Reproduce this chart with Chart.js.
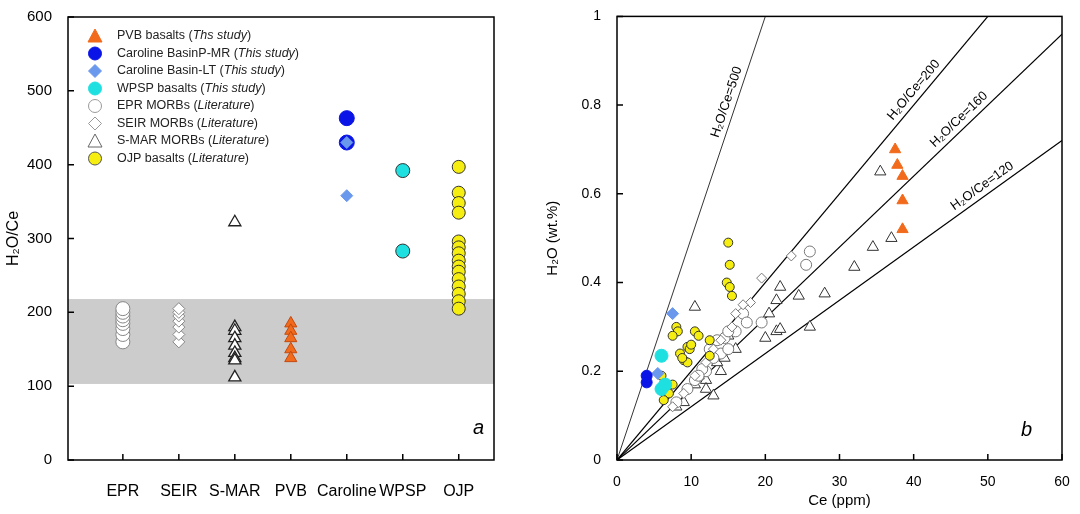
<!DOCTYPE html>
<html><head><meta charset="utf-8">
<script src="https://cdn.jsdelivr.net/npm/chart.js@4"></script>
<style>body{margin:0;background:#fff;font-family:"Liberation Sans",Arial,sans-serif}
#a,#b{position:absolute;top:0;width:540px;height:514px}#a{left:0}#b{left:540px}</style>
</head><body>
<div id="a"><canvas id="ca"></canvas></div><div id="b"><canvas id="cb"></canvas></div>
<script>
const categories=["EPR","SEIR","S-MAR","PVB","Caroline","WPSP","OJP"];
const bandRange=[103,218];
const epr=[160,170,178,185,190,195,200,205];
const seir=[160,170,180,188,195,200,205];
const smar=[322,180,175,165,155,145,138,135,112];
const pvb=[185,175,165,150,138];
const carPMR=[463,430];
const carLT=[430,358];
const wpsp=[392,283];
const ojp=[397,362,348,335,296,288,280,270,262,255,245,235,225,215,205];
// panel b: [Ce ppm, H2O wt.%]
const bPVB=[[37.5,0.70],[37.8,0.665],[38.5,0.64],[38.5,0.585],[38.5,0.52]];
const bSMAR=[[35.5,0.65],[37,0.5],[34.5,0.48],[32,0.435],[26,0.30],[28,0.375],[24.5,0.37],[22,0.39],[21.5,0.36],[20.5,0.33],[21.5,0.29],[22,0.295],[20,0.275],[10.5,0.345],[13,0.145],[14,0.2],[13.5,0.22],[12,0.18],[9,0.13],[8,0.12],[15,0.28],[16,0.25],[12,0.16],[10.5,0.17],[14.5,0.23],[11,0.19]];
const bEPR=[[26,0.47],[25.5,0.44],[19.5,0.31],[17,0.33],[17.5,0.31],[16,0.29],[14.5,0.275],[14,0.24],[15,0.25],[13,0.23],[12,0.2],[11.5,0.205],[10.5,0.18],[9.5,0.16],[8,0.13],[12.5,0.25],[13.5,0.27],[15,0.29],[11,0.19]];
const bSEIR=[[23.5,0.46],[19.5,0.41],[18,0.355],[17,0.35],[16,0.33],[14,0.27],[12,0.22],[10.5,0.19],[9,0.15],[7.5,0.12],[13,0.25],[15.5,0.3]];
const bOJP=[[15,0.49],[15.2,0.44],[14.8,0.40],[15.2,0.39],[15.5,0.37],[10.5,0.29],[11,0.28],[8,0.30],[8.2,0.29],[7.5,0.28],[9.5,0.255],[9.8,0.25],[10,0.26],[9,0.225],[9.5,0.22],[12.5,0.27],[12.5,0.235],[8.5,0.24],[8.8,0.23],[6,0.19],[6.2,0.16],[6.5,0.15],[7,0.15],[6.3,0.135],[7.5,0.17]];
const bPMR=[[4,0.19],[4,0.175]];
const bLT=[[7.5,0.33],[5.5,0.195]];
const bWPSP=[[6,0.235],[6.5,0.17],[6,0.16]];
const ratios=[500,200,160,120];
const labelCe={500:16,200:41,160:47,120:50};

const FONT='"Liberation Sans", Arial, sans-serif';
Chart.defaults.font.family=FONT;Chart.defaults.color='#000';
const ORANGE='#f26a1b',BLUE='#0a14e6',LBLUE='#6a98ec',CYAN='#1fe0e0',YEL='#f5ee10';

function frameTicks(ch,xticks,yticks,len){
  const {ctx,chartArea:a,scales:{x,y}}=ch;
  ctx.save();ctx.strokeStyle='#000';ctx.lineWidth=1.5;ctx.strokeRect(a.left,a.top,a.right-a.left,a.bottom-a.top);
  ctx.beginPath();
  xticks.forEach(v=>{const p=x.getPixelForValue(v);ctx.moveTo(p,a.bottom);ctx.lineTo(p,a.bottom-len);});
  yticks.forEach(v=>{const p=y.getPixelForValue(v);ctx.moveTo(a.left,p);ctx.lineTo(a.left+len,p);});
  ctx.stroke();ctx.restore();
}
function sc(arr,cat){return arr.map(v=>({x:cat,y:v}));}
function ds(data,style,r,fill,stroke,bw){return {data,pointStyle:style,pointRadius:r,pointHoverRadius:r,backgroundColor:fill,borderColor:stroke,borderWidth:bw||1,showLine:false};}

const legendItems=[
 ['triangle',ORANGE,ORANGE,'PVB basalts (','Ths study',')'],
 ['circle',BLUE,BLUE,'Caroline BasinP-MR (','This study',')'],
 ['rectRot',LBLUE,LBLUE,'Caroline Basin-LT (','This study',')'],
 ['circle',CYAN,CYAN,'WPSP basalts (','This study',')'],
 ['circle','#fff','#999','EPR MORBs (','Literature',')'],
 ['rectRot','#fff','#999','SEIR MORBs (','Literature',')'],
 ['triangle','#fff','#666','S-MAR MORBs (','Literature',')'],
 ['circle',YEL,'#555','OJP basalts (','Literature',')']];

const plugA={id:'pa',
 beforeDatasetsDraw(ch){const {ctx,chartArea:a,scales:{y}}=ch;ctx.save();ctx.fillStyle='#cccccc';
  const t=y.getPixelForValue(bandRange[1]),b=y.getPixelForValue(bandRange[0]);ctx.fillRect(a.left,t,a.right-a.left,b-t);ctx.restore();},
 afterDraw(ch){const {ctx}=ch;frameTicks(ch,[1,2,3,4,5,6,7],[0,100,200,300,400,500,600],6);
  ctx.save();
  legendItems.forEach((it,i)=>{const yy=36+i*17.5;
   ctx.fillStyle=it[1];ctx.strokeStyle=it[2];ctx.lineWidth=1;
   ctx.beginPath();
   if(it[0]==='circle'){ctx.arc(95,yy,6.5,0,7);}else if(it[0]==='triangle'){ctx.moveTo(95,yy-7);ctx.lineTo(102,yy+6);ctx.lineTo(88,yy+6);ctx.closePath();}else{ctx.moveTo(95,yy-6.5);ctx.lineTo(101.5,yy);ctx.lineTo(95,yy+6.5);ctx.lineTo(88.5,yy);ctx.closePath();}
   ctx.fill();ctx.stroke();
   ctx.fillStyle='#222';ctx.textBaseline='middle';let xx=117;
   ctx.font='12.5px '+FONT;ctx.fillText(it[3],xx,yy);xx+=ctx.measureText(it[3]).width;
   ctx.font='italic 12.5px '+FONT;ctx.fillText(it[4],xx,yy);xx+=ctx.measureText(it[4]).width;
   ctx.font='12.5px '+FONT;ctx.fillText(it[5],xx,yy);});
  ctx.font='italic 20px '+FONT;ctx.fillStyle='#000';ctx.fillText('a',473,428);
  ctx.restore();}};

const fitY=w=>s=>{s.width=w;}, fitX=h=>s=>{s.height=h;};
// datasets listed top-most first (Chart.js draws index 0 last)
new Chart(document.getElementById('ca'),{type:'scatter',
 data:{datasets:[
  ds(sc(ojp,7),'circle',6.5,YEL,'#333'),
  ds(sc(wpsp,6),'circle',7,CYAN,'#333'),
  ds(sc(carLT,5),'rectRot',6,LBLUE,LBLUE),
  ds(sc(carPMR,5),'circle',7.5,BLUE,BLUE),
  ds(sc(pvb,4),'triangle',7,ORANGE,'#c24a10'),
  ds(sc(smar,3),'triangle',7,'#fff','#222',1.3),
  ds(sc(seir,2),'rectRot',6,'#fff','#888'),
  ds(sc(epr,1),'circle',7,'#fff','#888')]},
 plugins:[plugA],
 options:{responsive:true,maintainAspectRatio:false,animation:false,events:[],
  layout:{padding:{top:14,right:46,left:0,bottom:0}},
  plugins:{legend:{display:false},tooltip:{enabled:false}},
  scales:{
   x:{type:'linear',min:0.02,max:7.63,grid:{display:false},border:{display:false},afterFit:fitX(54),
    afterBuildTicks:s=>{s.ticks=[1,2,3,4,5,6,7].map(v=>({value:v}));},
    ticks:{padding:14,font:{size:16},color:'#000',autoSkip:false,maxRotation:0,callback:v=>categories[v-1]}},
   y:{min:0,max:600,grid:{display:false},border:{display:false},afterFit:fitY(68),
    ticks:{stepSize:100,font:{size:15},color:'#000',padding:8},
    title:{display:true,text:'H₂O/Ce',font:{size:16},padding:{bottom:0}}}}}});

const plugB={id:'pb',
 afterDraw(ch){const {ctx,chartArea:a,scales:{x,y}}=ch;frameTicks(ch,[0,10,20,30,40,50,60],[0,0.2,0.4,0.6,0.8,1],6);
  ctx.save();ctx.fillStyle='#000';ctx.font='13px '+FONT;
  ratios.forEach(r=>{const cx=labelCe[r];
   const x0=x.getPixelForValue(0),y0=y.getPixelForValue(0),x1=x.getPixelForValue(50),y1=y.getPixelForValue(50*r/1e4);
   const ang=Math.atan2(y1-y0,x1-x0);
   const px=x.getPixelForValue(cx),py=y.getPixelForValue(cx*r/1e4);
   ctx.save();ctx.translate(px,py);ctx.rotate(ang);ctx.textAlign='center';ctx.textBaseline='bottom';
   ctx.fillText('H₂O/Ce='+r,0,-3);ctx.restore();});
  ctx.font='italic 20px '+FONT;ctx.fillText('b',481,436);
  ctx.restore();}};
const lineDs=ratios.map(r=>({type:'line',data:[{x:0,y:0},{x:60,y:60*r/1e4}],borderColor:'#000',borderWidth:r===500?0.8:1.2,pointRadius:0,fill:false,clip:true}));
const bsc=a=>a.map(p=>({x:p[0],y:p[1]}));
new Chart(document.getElementById('cb'),{type:'scatter',
 data:{datasets:[
  ds(bsc(bPMR),'circle',5.5,BLUE,BLUE),
  ds(bsc(bLT),'rectRot',6,LBLUE,LBLUE),
  ds(bsc(bWPSP),'circle',6.5,CYAN,CYAN),
  ds(bsc(bPVB),'triangle',6.5,ORANGE,ORANGE),
  ds(bsc(bOJP),'circle',4.5,YEL,'#333'),
  ds(bsc(bSEIR),'rectRot',5,'#fff','#777'),
  ds(bsc(bEPR),'circle',5.5,'#fff','#777'),
  ds(bsc(bSMAR),'triangle',6.5,'#fff','#333'),
  ...lineDs]},
 plugins:[plugB],
 options:{responsive:true,maintainAspectRatio:false,animation:false,events:[],
  layout:{padding:{top:14,right:18,left:0,bottom:0}},
  plugins:{legend:{display:false},tooltip:{enabled:false}},
  scales:{
   x:{type:'linear',min:0,max:60,grid:{display:false},border:{display:false},afterFit:fitX(54),
    ticks:{stepSize:10,font:{size:14},color:'#000',padding:6},
    title:{display:true,text:'Ce (ppm)',font:{size:15},padding:{top:2}}},
   y:{min:0,max:1,grid:{display:false},border:{display:false},afterFit:fitY(77),
    ticks:{stepSize:0.2,font:{size:14},color:'#000',padding:8,callback:v=>v===0?'0':(v===1?'1':v.toFixed(1))},
    title:{display:true,text:'H₂O (wt.%)',font:{size:15},padding:{bottom:8}}}}}});
</script></body></html>
